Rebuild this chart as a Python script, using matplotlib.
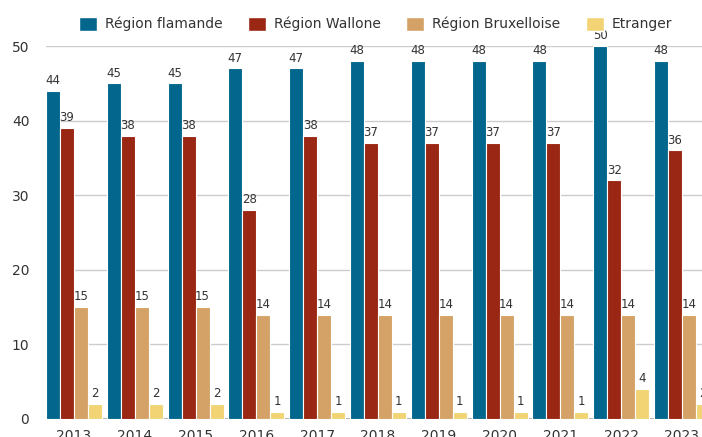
import numpy as np
import matplotlib.pyplot as plt
from matplotlib.patches import Patch

# data
years = ['2013', '2014', '2015', '2016', '2017', '2018', '2019', '2020', '2021', '2022', '2023']
flamande = [44, 45, 45, 47, 47, 48, 48, 48, 48, 50, 48]
wallone = [39, 38, 38, 28, 38, 37, 37, 37, 37, 32, 36]
bruxelloise = [15, 15, 15, 14, 14, 14, 14, 14, 14, 14, 14]
etranger = [2, 2, 2, 1, 1, 1, 1, 1, 1, 4, 2]
series_names = ['Région flamande', 'Région Wallone', 'Région Bruxelloise', 'Etranger']
colors = ['#03668c', '#9a2614', '#d4a267', '#f2d475']

plt.rcParams['font.family'] = ['DejaVu Sans']

fig = plt.figure(figsize=(7.02, 4.37), dpi=100)
ax = fig.add_axes([0.0655, 0.0412, 0.9345, 0.8535])

x = np.arange(len(years))
w = 0.23
all_series = [flamande, wallone, bruxelloise, etranger]
for k, (vals, col) in enumerate(zip(all_series, colors)):
    pos = x + (k - 1.5) * w
    ax.bar(pos, vals, width=w, color=col, edgecolor='white', linewidth=0.8, zorder=3)
    for px, v in zip(pos, vals):
        ax.text(px, v + 0.5, str(v), ha='center', va='bottom', fontsize=8.5,
                color='#333333', zorder=4, clip_on=False)

ax.set_xlim(-0.46, 10.33)
ax.set_ylim(0, 50)
ax.set_yticks([0, 10, 20, 30, 40, 50])
ax.set_xticks(x)
ax.set_xticklabels(years)
ax.tick_params(axis='both', length=0, labelsize=10, labelcolor='#333333')
ax.tick_params(axis='y', pad=12)
ax.tick_params(axis='x', pad=7)
for s in ax.spines.values():
    s.set_visible(False)
ax.yaxis.grid(True, color='#cccccc', linewidth=1, zorder=0)
ax.axhline(0, color='#aaaaaa', linewidth=2, zorder=2)

handles = [Patch(facecolor=c, edgecolor='white') for c in colors]
fig.legend(handles, series_names, loc='center', bbox_to_anchor=(0.535, 0.945), ncol=4,
           frameon=False, fontsize=10, handlelength=1.3, handleheight=1.2,
           columnspacing=1.8, handletextpad=0.6, labelcolor='#333333')

fig.savefig('out.png', dpi=100)
